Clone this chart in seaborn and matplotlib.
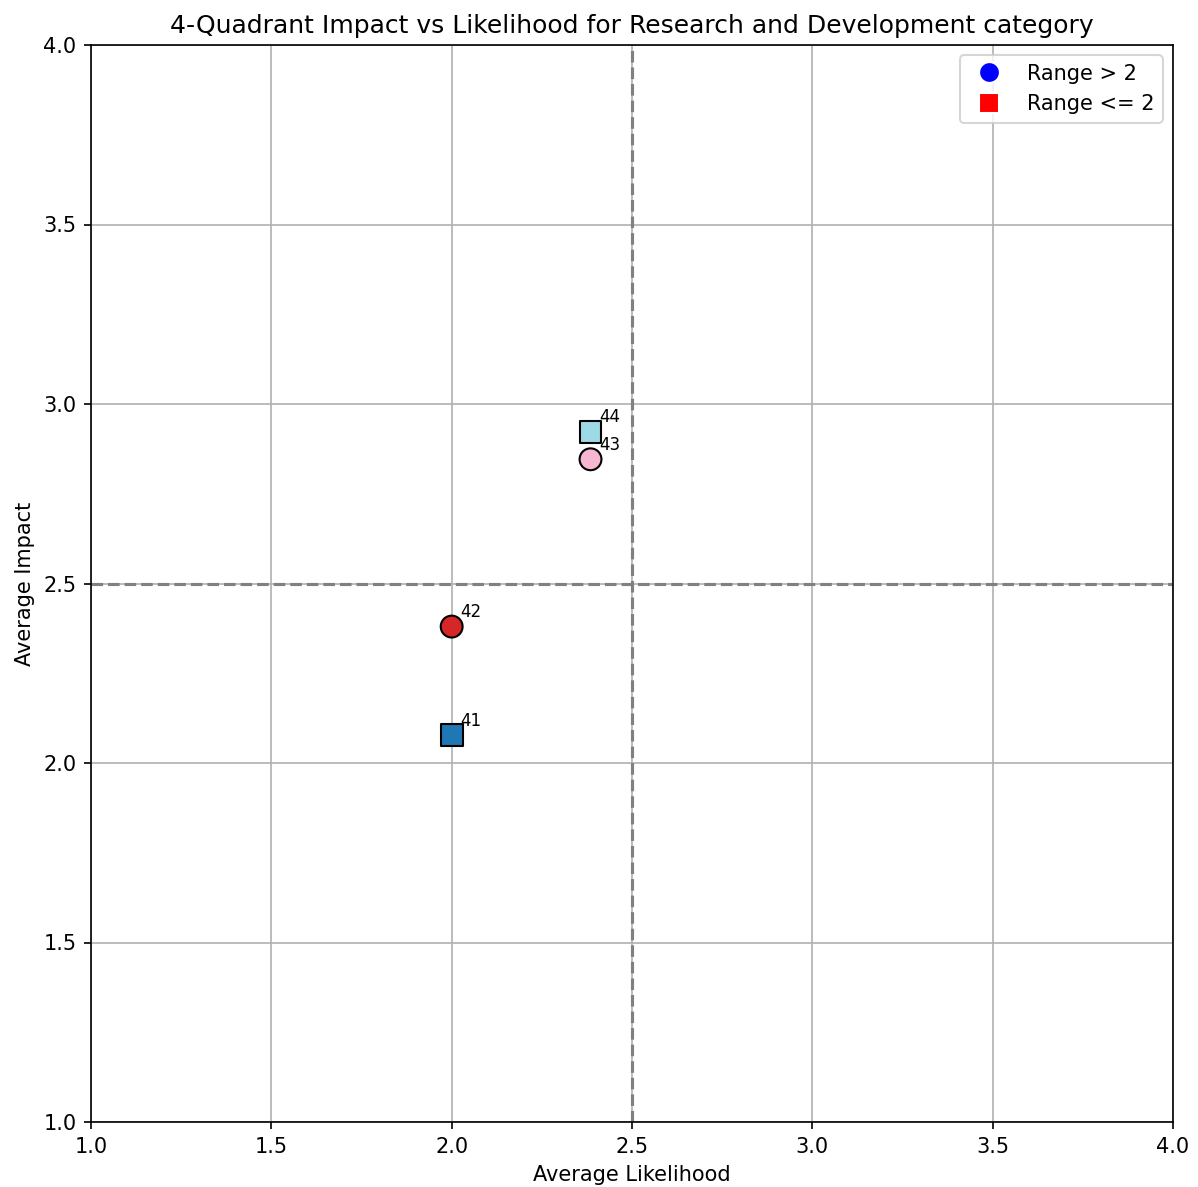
import matplotlib
matplotlib.use("Agg")
import matplotlib.pyplot as plt
from matplotlib.lines import Line2D
import seaborn as sns
import pandas as pd

# Data
ids = ["41", "42", "43", "44"]
likelihood = [2.0, 2.0, 2.385, 2.385]
impact = [2.077, 2.380, 2.846, 2.923]
range_group = ["<= 2", "> 2", "> 2", "<= 2"]
point_colors = ["#1f77b4", "#d62728", "#f7b6d2", "#9edae5"]

df = pd.DataFrame({"id": ids, "likelihood": likelihood, "impact": impact,
                   "group": range_group})

fig = plt.figure(figsize=(1198 / 150, 1187 / 150), dpi=150)
ax = fig.add_axes([91 / 1198, 65 / 1187, 1082 / 1198, 1077 / 1187])

sns.scatterplot(data=df, x="likelihood", y="impact", hue="id",
                palette=dict(zip(ids, point_colors)), style="group",
                markers={"> 2": "o", "<= 2": "s"}, s=110,
                edgecolor="black", linewidth=1, legend=False, ax=ax, zorder=3)

for i, x, y in zip(ids, likelihood, impact):
    ax.annotate(i, (x, y), xytext=(4, 4.5), textcoords="offset points", fontsize=8)

ax.axhline(2.5, color="gray", linestyle="--", linewidth=1.5)
ax.axvline(2.5, color="gray", linestyle="--", linewidth=1.5)

ax.set_xlim(1, 4)
ax.set_ylim(1, 4)
ax.grid(True)
ax.set_axisbelow(True)
ax.set_xlabel("Average Likelihood")
ax.set_ylabel("Average Impact")
ax.set_title("4-Quadrant Impact vs Likelihood for Research and Development category")

handles = [
    Line2D([0], [0], marker="o", color="w", markerfacecolor="blue", markersize=10, label="Range > 2"),
    Line2D([0], [0], marker="s", color="w", markerfacecolor="red", markersize=10, label="Range <= 2"),
]
ax.legend(handles=handles, loc="upper right")

fig.savefig("out.png", dpi=150)
